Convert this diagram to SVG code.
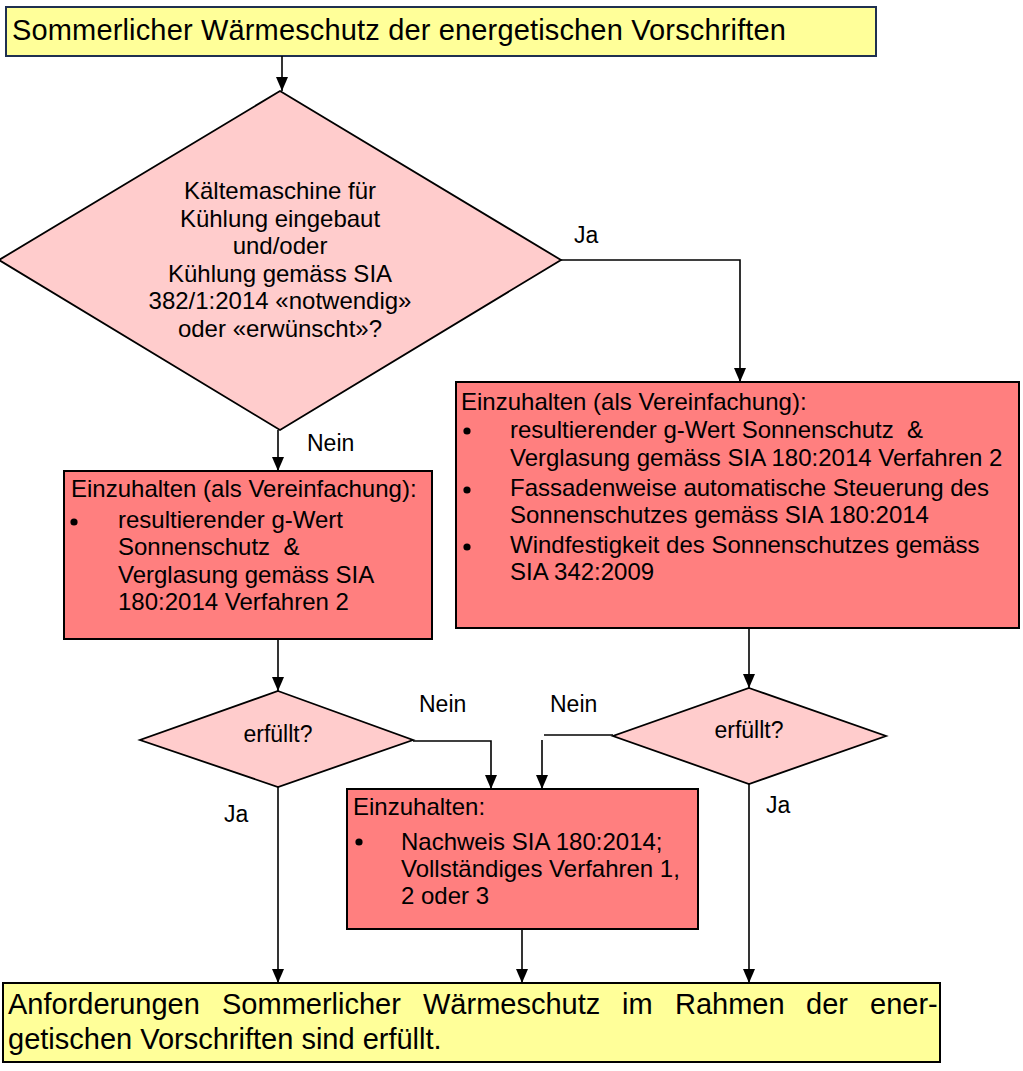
<svg xmlns="http://www.w3.org/2000/svg" width="1023" height="1071" viewBox="0 0 1023 1071">
<style>
text{font-family:"Liberation Sans",Arial,sans-serif;fill:#000}
.t24{font-size:24px}
.t23{font-size:23px}
.t29{font-size:29px}
.mid{text-anchor:middle}
.yel{fill:#FFFF99;stroke:#000;stroke-width:2}
.red{fill:#FF7F7F;stroke:#000;stroke-width:2}
.dia{fill:#FFCCCC;stroke:#000;stroke-width:1.8}
.con{fill:none;stroke:#000;stroke-width:1.6}
</style>
<defs>
<marker id="ah" viewBox="0 0 14 12" refX="14" refY="6" markerWidth="14" markerHeight="12" markerUnits="userSpaceOnUse" orient="auto">
<path d="M0,0 L14,6 L0,12 z" fill="#000"/>
</marker>
</defs>
<rect width="1023" height="1071" fill="#fff"/>

<g id="start">
<rect x="6" y="7" width="870" height="49" fill="#FFFF99" stroke="#1F3050" stroke-width="2"/>
<text class="t29" x="12" y="40" textLength="774" lengthAdjust="spacing">Sommerlicher Wärmeschutz der energetischen Vorschriften</text>
</g>

<g id="decision-cooling">
<polygon class="dia" points="280,91 561,260 280,430 -1,260"/>
<text class="t24 mid" x="280" y="199">Kältemaschine für</text>
<text class="t24 mid" x="280" y="226.6">Kühlung eingebaut</text>
<text class="t24 mid" x="280" y="254.2">und/oder</text>
<text class="t24 mid" x="280" y="281.8">Kühlung gemäss SIA</text>
<text class="t24 mid" x="280" y="309.4">382/1:2014 «notwendig»</text>
<text class="t24 mid" x="280" y="337">oder «erwünscht»?</text>
</g>

<g id="box-right">
<rect class="red" x="456" y="382" width="563" height="246"/>
<text class="t24" x="461" y="410">Einzuhalten (als Vereinfachung):</text>
<circle cx="467" cy="431" r="3.6"/>
<text class="t24" x="510" y="438">resultierender g-Wert Sonnenschutz&#160; &amp;</text>
<text class="t24" x="510" y="466">Verglasung gemäss SIA 180:2014 Verfahren 2</text>
<circle cx="467" cy="490" r="3.6"/>
<text class="t24" x="510" y="496">Fassadenweise automatische Steuerung des</text>
<text class="t24" x="510" y="523">Sonnenschutzes gemäss SIA 180:2014</text>
<circle cx="467" cy="547" r="3.6"/>
<text class="t24" x="510" y="553">Windfestigkeit des Sonnenschutzes gemäss</text>
<text class="t24" x="510" y="580">SIA 342:2009</text>
</g>

<g id="box-left">
<rect class="red" x="64" y="471" width="368" height="168"/>
<text class="t24" x="71" y="497">Einzuhalten (als Vereinfachung):</text>
<circle cx="74" cy="522" r="3.6"/>
<text class="t24" x="118" y="528">resultierender g-Wert</text>
<text class="t24" x="118" y="555">Sonnenschutz&#160; &amp;</text>
<text class="t24" x="118" y="583">Verglasung gemäss SIA</text>
<text class="t24" x="118" y="610">180:2014 Verfahren 2</text>
</g>

<g id="decision-left">
<polygon class="dia" points="278,691 413,740 278,787 140,740"/>
<text class="t23 mid" x="278" y="742">erfüllt?</text>
</g>

<g id="decision-right">
<polygon class="dia" points="749,688 886,736 749,784 613,736"/>
<text class="t23 mid" x="749" y="738">erfüllt?</text>
</g>

<g id="box-middle">
<rect class="red" x="347" y="789" width="351" height="140"/>
<text class="t24" x="353" y="815">Einzuhalten:</text>
<circle cx="359" cy="842" r="3.6"/>
<text class="t24" x="401" y="850">Nachweis SIA 180:2014;</text>
<text class="t24" x="401" y="877">Vollständiges Verfahren 1,</text>
<text class="t24" x="401" y="904">2 oder 3</text>
</g>

<g id="end">
<rect class="yel" x="3" y="983" width="937" height="79"/>
<text class="t29" y="1014"><tspan x="8">Anforderungen</tspan><tspan x="222">Sommerlicher</tspan><tspan x="423">Wärmeschutz</tspan><tspan x="622">im</tspan><tspan x="675">Rahmen</tspan><tspan x="806">der</tspan><tspan x="870">ener-</tspan></text>
<text class="t29" x="8" y="1049">getischen Vorschriften sind erfüllt.</text>
</g>

<g id="connectors">
<line class="con" x1="282" y1="56" x2="282" y2="91" marker-end="url(#ah)"/>
<polyline class="con" points="561,260 740,260 740,382" marker-end="url(#ah)"/>
<line class="con" x1="278" y1="430" x2="278" y2="471" marker-end="url(#ah)"/>
<line class="con" x1="278" y1="639" x2="278" y2="691" marker-end="url(#ah)"/>
<line class="con" x1="749" y1="628" x2="749" y2="688" marker-end="url(#ah)"/>
<polyline class="con" points="413,741 491,741 491,789" marker-end="url(#ah)"/>
<line class="con" x1="613" y1="735" x2="544" y2="735"/>
<line class="con" x1="542" y1="740" x2="542" y2="789" marker-end="url(#ah)"/>
<line class="con" x1="278" y1="787" x2="278" y2="983" marker-end="url(#ah)"/>
<line class="con" x1="522" y1="929" x2="522" y2="983" marker-end="url(#ah)"/>
<line class="con" x1="749" y1="784" x2="749" y2="983" marker-end="url(#ah)"/>
<text class="t23" x="574" y="243">Ja</text>
<text class="t23" x="307" y="451">Nein</text>
<text class="t23" x="419" y="712">Nein</text>
<text class="t23" x="550" y="712">Nein</text>
<text class="t23" x="224" y="822">Ja</text>
<text class="t23" x="766" y="813">Ja</text>
</g>
</svg>
